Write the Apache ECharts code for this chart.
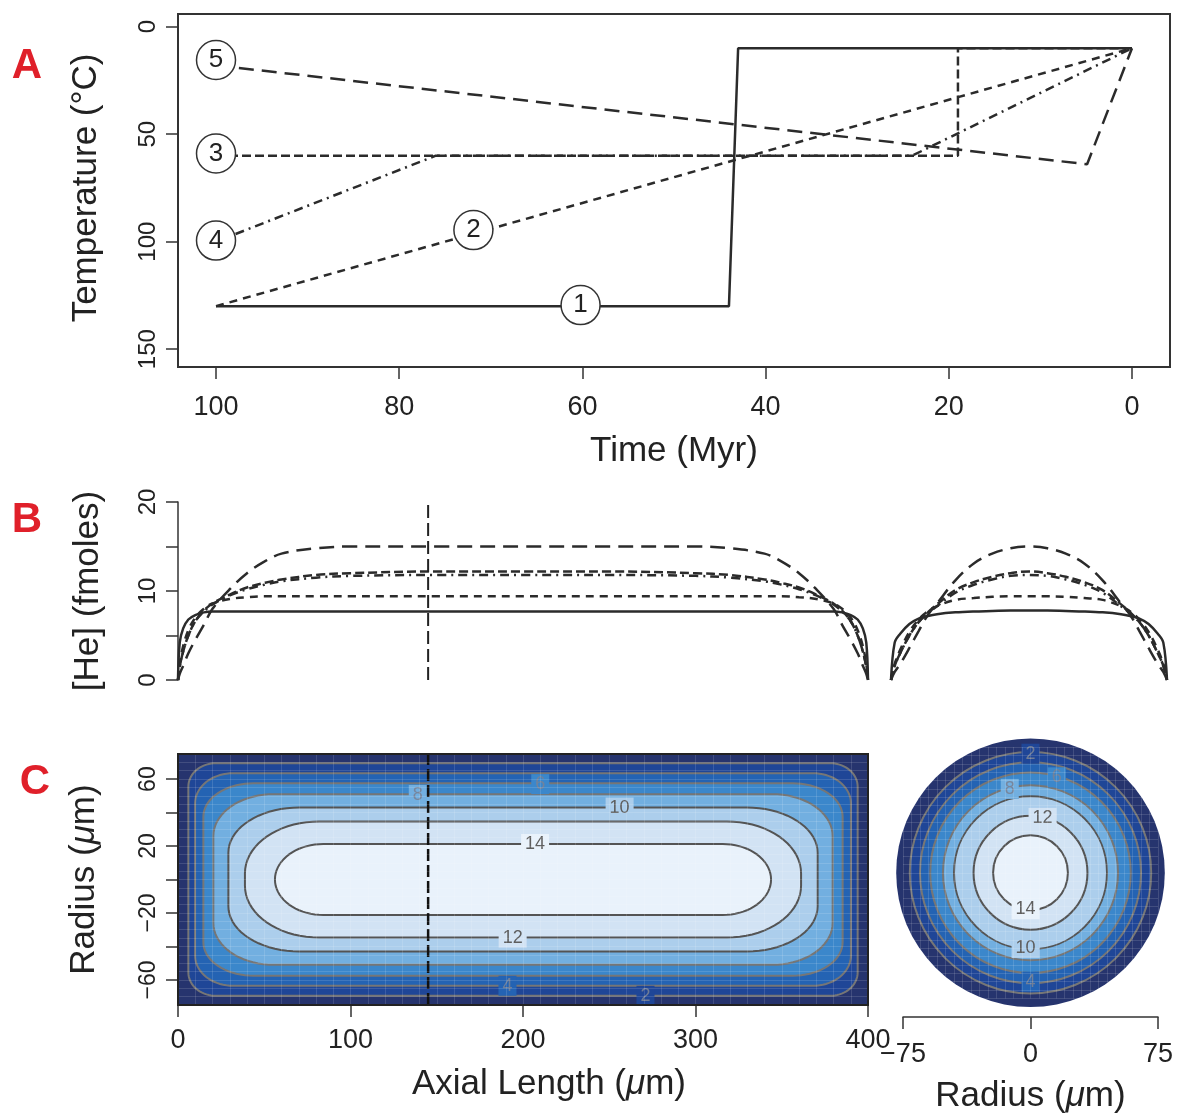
<!DOCTYPE html>
<html><head><meta charset="utf-8">
<script src="https://cdn.jsdelivr.net/npm/echarts@6/dist/echarts.min.js"></script>
<style>html,body{margin:0;padding:0;background:#fff}#c{width:1181px;height:1115px}</style>
</head><body><div id="c"></div>
<script>
const FONT = '"Liberation Sans", Arial, Helvetica, sans-serif';
const INK = '#222222';

// ===== Panel A : thermal histories (time Myr, temperature °C) =====
const timeTicks = [0, 20, 40, 60, 80, 100];
const tempTicks = [0, 50, 100, 150];
const history1 = [[100, 130], [44, 130], [43, 10], [0, 10]];
const history2 = [[100, 130], [0, 10]];
const history3 = [[100, 60], [19, 60], [19, 10], [0, 10]];
const history4 = [[100, 100], [76, 60], [24, 60], [0, 10]];
const history5 = [[100, 18], [4.9, 64], [0, 10]];
const historyNames = ['1', '2', '3', '4', '5'];
const historyLabelTime = [60.2, 71.9, 100, 100, 100];
const historyLabelTemp = [129.5, 94.6, 59, 99.5, 15.5];

// ===== Panel B : [He] profiles =====
const heTicks = [0, 5, 10, 15, 20];
const heTickLabels = [0, 10, 20];
const axialPos = [0,1,3,6,10,15,20,30,40,50,60,80,100,150,200,250,300,320,340,350,360,370,380,385,390,394,397,399,400];
const axialHe1 = [0,4.2,5.8,6.8,7.3,7.6,7.7,7.7,7.7,7.7,7.7,7.7,7.7,7.7,7.7,7.7,7.7,7.7,7.7,7.7,7.7,7.7,7.7,7.6,7.3,6.8,5.8,4.2,0];
const axialHe2 = [0,1.8,3.8,5.6,7.0,8.0,8.6,9.1,9.3,9.4,9.4,9.4,9.4,9.4,9.4,9.4,9.4,9.4,9.4,9.4,9.3,9.1,8.6,8.0,7.0,5.6,3.8,1.8,0];
const axialHe3 = [0,1.5,3.2,5.0,6.6,7.8,8.6,9.6,10.4,10.9,11.3,11.8,12.0,12.2,12.2,12.2,12.0,11.8,11.3,10.9,10.4,9.6,8.6,7.8,6.6,5.0,3.2,1.5,0];
const axialHe4 = [0,1.5,3.2,5.0,6.6,7.7,8.5,9.5,10.2,10.7,11.1,11.5,11.7,11.8,11.8,11.8,11.7,11.5,11.1,10.7,10.2,9.5,8.5,7.7,6.6,5.0,3.2,1.5,0];
const axialHe5 = [0,0.7,1.6,3.0,4.5,6.2,8.0,10.2,12.0,13.3,14.2,14.8,15.0,15.0,15.0,15.0,15.0,14.8,14.2,13.3,12.0,10.2,8.0,6.2,4.5,3.0,1.6,0.7,0];
const radialPos = [-75,-73,-70,-65,-60,-55,-50,-40,-30,-20,-10,0,10,20,30,40,50,55,60,65,70,73,75];
const radialHe1 = [0,4.2,5.2,6.3,6.9,7.2,7.4,7.6,7.7,7.75,7.8,7.8,7.8,7.75,7.7,7.6,7.4,7.2,6.9,6.3,5.2,4.2,0];
const radialHe2 = [0,1.8,3.4,5.4,6.8,7.7,8.3,9.0,9.2,9.35,9.4,9.4,9.4,9.35,9.2,9.0,8.3,7.7,6.8,5.4,3.4,1.8,0];
const radialHe3 = [0,1.6,3.0,5.0,6.5,7.6,8.5,10.1,11.0,11.6,12.0,12.2,12.0,11.6,11.0,10.1,8.5,7.6,6.5,5.0,3.0,1.6,0];
const radialHe4 = [0,1.6,3.0,5.0,6.5,7.5,8.3,9.8,10.7,11.3,11.7,11.8,11.7,11.3,10.7,9.8,8.3,7.5,6.5,5.0,3.0,1.6,0];
const radialHe5 = [0,0.9,1.8,3.6,5.5,7.3,8.6,11.2,13.1,14.2,14.8,15.0,14.8,14.2,13.1,11.2,8.6,7.3,5.5,3.6,1.8,0.9,0];
const sectionAxial = [145];

// ===== Panel C : contour maps =====
const crystalAxial = [0, 400];
const crystalRad = [-75, 75];
const axialTicks = [0, 100, 200, 300, 400];
const radiusTicks = [-60, -40, -20, 0, 20, 40, 60];
const radiusTickLabels = [-60, -20, 20, 60];
const sectionTicks = [-75, 0, 75];
const contourLevels = [2, 4, 6, 8, 10, 12, 14];
const contourInset = [6, 9.9, 14.7, 20.5, 29.2, 38.8, 56.2];
const contourHalf = [69.5, 63.5, 57.5, 51, 43, 34.7, 21.2];
const cornerAxial = [16, 22, 29, 35, 41, 43, 28];
const cornerRadial = [14, 18, 20, 25, 27, 31, 21.2];
const circleRadii = [71, 65, 59, 51.5, 45, 33.5, 22];
const crystalOuter = [79];
const bandColors = ['#26346e', '#1f4697', '#2463b3', '#3b87cb', '#72afe0', '#acceec', '#d2e3f4', '#e9f2fb'];
const rectLabelText = ['8', '6', '10', '14', '12', '4', '2'];
const rectLabelLevel = [8, 6, 10, 14, 12, 4, 2];
const rectLabelX = [139, 210, 256, 207, 194, 191, 271];
const rectLabelR = [50.5, 57, 43, 21.2, -34.7, -63.5, -69.5];
const circLabelText = ['2', '6', '8', '12', '14', '10', '4'];
const circLabelLevel = [2, 6, 8, 12, 14, 10, 4];
const circLabelX = [0, 15.5, -12.2, 7.1, -2.9, -2.9, 0];
const circLabelY = [71, 56.9, 50.0, 32.7, -21.8, -44.9, -65];

// ----- styles -----
const lineStyles = [
  { type: 'solid', width: 2.5 },
  { type: [8, 6], width: 2.5 },
  { type: [9, 4], width: 2.5 },
  { type: [9, 5, 2, 5], width: 2.5 },
  { type: [15, 8], width: 2.5 }
];
const LINE = '#2b2b2b';
const histories = [history1, history2, history3, history4, history5];
const axialSets = [axialHe1, axialHe2, axialHe3, axialHe4, axialHe5];
const radialSets = [radialHe1, radialHe2, radialHe3, radialHe4, radialHe5];

const tickLabel = (size) => ({ color: INK, fontFamily: FONT, fontSize: size });
const hidden = (gi, min, max, extra) => Object.assign({ gridIndex: gi, type: 'value', min, max, show: false, axisLine: { show: false, onZero: false } }, extra || {});
const nameStyle = { color: INK, fontFamily: FONT, fontSize: 35, rich: { i: { fontStyle: 'italic', fontFamily: FONT, fontSize: 35, color: INK } } };
const tickStyle = { show: true, length: 12, lineStyle: { color: '#333', width: 1.5 } };
const noLine = { show: false, onZero: false };
const minus = v => String(v).replace('-', '\u2212');

function stadium(api, x0, x1, y0, y1, ax, ay) {
  const pts = [];
  const corners = [[x1 - ax, y1 - ay, 0], [x0 + ax, y1 - ay, 90], [x0 + ax, y0 + ay, 180], [x1 - ax, y0 + ay, 270]];
  const steps = 18;
  for (const c of corners) {
    for (let s = 0; s <= steps; s++) {
      const t = (c[2] + 90 * s / steps) * Math.PI / 180;
      pts.push(api.coord([c[0] + ax * Math.cos(t), c[1] + ay * Math.sin(t)]));
    }
  }
  return pts;
}
const levelIndex = L => contourLevels.indexOf(L);
const strokeFor = k => (k <= 3 ? '#767676' : '#545454');
const labelInk = k => (k <= 3 ? 'rgba(120,130,150,0.9)' : '#5e5e5e');

const series = [];
// Panel A lines
histories.forEach((h, i) => series.push({
  type: 'line', xAxisIndex: 0, yAxisIndex: 0, data: h, symbol: 'none', silent: true,
  lineStyle: Object.assign({ color: LINE }, lineStyles[i]), z: 2
}));
series.push({
  type: 'scatter', xAxisIndex: 0, yAxisIndex: 0, clip: false, z: 4, symbol: 'circle', symbolSize: 39,
  data: historyNames.map((n, i) => [historyLabelTime[i], historyLabelTemp[i], n]),
  itemStyle: { color: '#fff', borderColor: '#333', borderWidth: 1.5, opacity: 1 },
  label: { show: true, position: 'inside', formatter: p => p.value[2], color: INK, fontFamily: FONT, fontSize: 26 }
});
// Panel B lines
axialSets.forEach((arr, i) => series.push({
  type: 'line', xAxisIndex: 2, yAxisIndex: 2, data: axialPos.map((x, j) => [x, arr[j]]), symbol: 'none',
  smooth: 0.35, clip: false, lineStyle: Object.assign({ color: LINE }, lineStyles[i])
}));
series.push({
  type: 'line', xAxisIndex: 2, yAxisIndex: 2, symbol: 'none',
  data: [[sectionAxial[0], heTicks[0]], [sectionAxial[0], heTicks[heTicks.length - 1]]],
  lineStyle: { color: '#222', width: 2, type: [13, 5] }
});
radialSets.forEach((arr, i) => series.push({
  type: 'line', xAxisIndex: 3, yAxisIndex: 3, data: radialPos.map((x, j) => [x, arr[j]]), symbol: 'none',
  smooth: 0.35, clip: false, lineStyle: Object.assign({ color: LINE }, lineStyles[i])
}));
// Panel C rectangle: base fill
series.push({
  type: 'custom', xAxisIndex: 4, yAxisIndex: 4, silent: true, z: 1,
  data: [[crystalAxial[0], crystalRad[1], crystalAxial[1], crystalRad[0]]],
  renderItem: (p, api) => {
    const a = api.coord([api.value(0), api.value(1)]), b = api.coord([api.value(2), api.value(3)]);
    return { type: 'rect', shape: { x: a[0], y: a[1], width: b[0] - a[0], height: b[1] - a[1] }, style: { fill: bandColors[0] } };
  }
});
// Panel C rectangle: contour bands
series.push({
  type: 'custom', xAxisIndex: 4, yAxisIndex: 4, silent: true, z: 2,
  data: contourLevels.map((L, k) => [L, contourInset[k], contourHalf[k], cornerAxial[k], cornerRadial[k], k]),
  renderItem: (p, api) => {
    const k = api.value(5);
    const inset = api.value(1), half = api.value(2);
    const pts = stadium(api, crystalAxial[0] + inset, crystalAxial[1] - inset, -half, half, api.value(3), api.value(4));
    return { type: 'polygon', shape: { points: pts }, style: { fill: bandColors[k + 1], stroke: strokeFor(k), lineWidth: 2 } };
  }
});
// Panel C rectangle: labels
series.push({
  type: 'custom', xAxisIndex: 4, yAxisIndex: 4, silent: true, z: 3,
  data: rectLabelText.map((t, i) => [rectLabelX[i], rectLabelR[i], i]),
  renderItem: (p, api) => {
    const i = api.value(2), c = api.coord([api.value(0), api.value(1)]);
    const k = levelIndex(rectLabelLevel[i]);
    return { type: 'text', x: c[0], y: c[1], style: { text: rectLabelText[i], fill: labelInk(k), font: '18px ' + FONT, align: 'center', verticalAlign: 'middle', backgroundColor: bandColors[k + 1], padding: [1, 4] } };
  }
});
// Panel C: section line
series.push({
  type: 'line', xAxisIndex: 4, yAxisIndex: 4, symbol: 'none', z: 4,
  data: [[sectionAxial[0], crystalRad[0]], [sectionAxial[0], crystalRad[1]]],
  lineStyle: { color: '#111', width: 2.5, type: [12, 4] }
});
// Panel C frame
series.push({
  type: 'custom', xAxisIndex: 4, yAxisIndex: 4, silent: true, z: 6,
  data: [[crystalAxial[0], crystalRad[1], crystalAxial[1], crystalRad[0]]],
  renderItem: (p, api) => {
    const a = api.coord([api.value(0), api.value(1)]), b = api.coord([api.value(2), api.value(3)]);
    return { type: 'rect', shape: { x: a[0], y: a[1], width: b[0] - a[0], height: b[1] - a[1] }, style: { fill: 'none', stroke: '#222', lineWidth: 2 } };
  }
});
// Circle cross-section
series.push({
  type: 'custom', xAxisIndex: 6, yAxisIndex: 6, silent: true, z: 2, clip: false,
  data: [[crystalOuter[0], -1]].concat(circleRadii.map((r, k) => [r, k])),
  renderItem: (p, api) => {
    const c = api.coord([0, 0]);
    const r = api.size([api.value(0), 0])[0];
    const k = api.value(1);
    const style = k < 0 ? { fill: bandColors[0] } : { fill: bandColors[k + 1], stroke: strokeFor(k), lineWidth: 2 };
    return { type: 'circle', shape: { cx: c[0], cy: c[1], r: r }, style };
  }
});
series.push({
  type: 'custom', xAxisIndex: 6, yAxisIndex: 6, silent: true, z: 3, clip: false,
  data: circLabelText.map((t, i) => [circLabelX[i], circLabelY[i], i]),
  renderItem: (p, api) => {
    const i = api.value(2), c = api.coord([api.value(0), api.value(1)]);
    const k = levelIndex(circLabelLevel[i]);
    return { type: 'text', x: c[0], y: c[1], style: { text: circLabelText[i], fill: labelInk(k), font: '18px ' + FONT, align: 'center', verticalAlign: 'middle', backgroundColor: bandColors[k + 1], padding: [1, 4] } };
  }
});

const faint = { show: true, lineStyle: { color: 'rgba(255,255,255,0.13)', width: 1 } };
const gridLineAxis = (gi, min, max, step) => ({
  gridIndex: gi, type: 'value', min, max, interval: step, z: 5,
  axisLine: noLine, axisTick: { show: false }, axisLabel: { show: false }, splitLine: faint
});

const option = {
  animation: false,
  backgroundColor: '#ffffff',
  graphic: [
    { type: 'text', style: { text: 'A', x: 27, y: 66, fill: '#e0202a', font: 'bold 42px ' + FONT, align: 'center', verticalAlign: 'middle' } },
    { type: 'text', style: { text: 'B', x: 27, y: 520, fill: '#e0202a', font: 'bold 42px ' + FONT, align: 'center', verticalAlign: 'middle' } },
    { type: 'text', style: { text: 'C', x: 35, y: 782, fill: '#e0202a', font: 'bold 42px ' + FONT, align: 'center', verticalAlign: 'middle' } }
  ],
  grid: [
    { left: 178, top: 14, width: 992, height: 353, show: true, borderColor: '#333', borderWidth: 2, backgroundColor: 'transparent' },
    { left: 216, top: 26.7, width: 916, height: 322.5 },
    { left: 178, top: 502, width: 690, height: 178 },
    { left: 891, top: 502, width: 276, height: 178 },
    { left: 178, top: 754, width: 690, height: 251 },
    { left: 178, top: 779.1, width: 690, height: 200.8 },
    { left: 903, top: 747, width: 255, height: 255 }
  ],
  xAxis: [
    hidden(0, -4.15, 104.15, { inverse: true }),
    { gridIndex: 1, type: 'value', min: timeTicks[0], max: timeTicks[timeTicks.length - 1], interval: timeTicks[1] - timeTicks[0], inverse: true,
      position: 'bottom', offset: 17.8, axisLine: noLine, axisTick: tickStyle, splitLine: { show: false },
      axisLabel: Object.assign({ margin: 27 }, tickLabel(27)),
      name: 'Time (Myr)', nameLocation: 'middle', nameGap: 67, nameTextStyle: nameStyle },
    hidden(2, crystalAxial[0], crystalAxial[1]),
    hidden(3, crystalRad[0], crystalRad[1]),
    { gridIndex: 4, type: 'value', min: axialTicks[0], max: axialTicks[axialTicks.length - 1], interval: axialTicks[1] - axialTicks[0],
      position: 'bottom', axisLine: noLine, axisTick: tickStyle, splitLine: { show: false },
      axisLabel: Object.assign({ margin: 22 }, tickLabel(27)),
      name: 'Axial Length ({i|\u03bc}m)', nameLocation: 'middle', nameGap: 62,
      nameTextStyle: Object.assign({ padding: [0, 0, 0, 52] }, nameStyle) },
    hidden(5, crystalAxial[0], crystalAxial[1]),
    { gridIndex: 6, type: 'value', min: sectionTicks[0], max: sectionTicks[sectionTicks.length - 1], interval: sectionTicks[1] - sectionTicks[0],
      position: 'bottom', offset: 18.5, axisLine: { show: true, onZero: false, lineStyle: { color: '#333', width: 1.5 } }, axisTick: tickStyle, splitLine: { show: false },
      axisLabel: Object.assign({ margin: 24, formatter: minus }, tickLabel(27)),
      name: 'Radius ({i|\u03bc}m)', nameLocation: 'middle', nameGap: 62, nameTextStyle: nameStyle },
    gridLineAxis(4, crystalAxial[0], crystalAxial[1], 10),
    gridLineAxis(6, sectionTicks[0], sectionTicks[2], 5)
  ],
  yAxis: [
    hidden(0, -5.9, 158.3, { inverse: true }),
    { gridIndex: 1, type: 'value', min: tempTicks[0], max: tempTicks[tempTicks.length - 1], interval: tempTicks[1] - tempTicks[0], inverse: true,
      position: 'left', offset: 38, axisLine: noLine, axisTick: tickStyle, splitLine: { show: false },
      axisLabel: Object.assign({ rotate: 90, margin: 18 }, tickLabel(24)),
      name: 'Temperature (\u00b0C)', nameLocation: 'middle', nameGap: 74, nameTextStyle: nameStyle },
    { gridIndex: 2, type: 'value', min: heTicks[0], max: heTicks[heTicks.length - 1], interval: heTicks[1] - heTicks[0],
      position: 'left', axisLine: { show: true, onZero: false, lineStyle: { color: '#333', width: 1.5 } }, axisTick: tickStyle, splitLine: { show: false },
      axisLabel: Object.assign({ rotate: 90, margin: 18, formatter: v => (heTickLabels.includes(v) ? String(v) : '') }, tickLabel(24)),
      name: '[He] (fmoles)', nameLocation: 'middle', nameGap: 72, nameTextStyle: nameStyle },
    hidden(3, heTicks[0], heTicks[heTicks.length - 1]),
    hidden(4, crystalRad[0], crystalRad[1]),
    { gridIndex: 5, type: 'value', min: radiusTicks[0], max: radiusTicks[radiusTicks.length - 1], interval: radiusTicks[1] - radiusTicks[0],
      position: 'left', axisLine: noLine, axisTick: tickStyle, splitLine: { show: false },
      axisLabel: Object.assign({ rotate: 90, margin: 18, formatter: v => (radiusTickLabels.includes(v) ? minus(v) : '') }, tickLabel(23)),
      name: 'Radius ({i|\u03bc}m)', nameLocation: 'middle', nameGap: 76, nameTextStyle: nameStyle },
    hidden(6, sectionTicks[0], sectionTicks[2]),
    gridLineAxis(4, crystalRad[0], crystalRad[1], 5),
    gridLineAxis(6, sectionTicks[0], sectionTicks[2], 5)
  ],
  series
};
const chart = echarts.init(document.getElementById('c'));
chart.setOption(option);
</script></body></html>
